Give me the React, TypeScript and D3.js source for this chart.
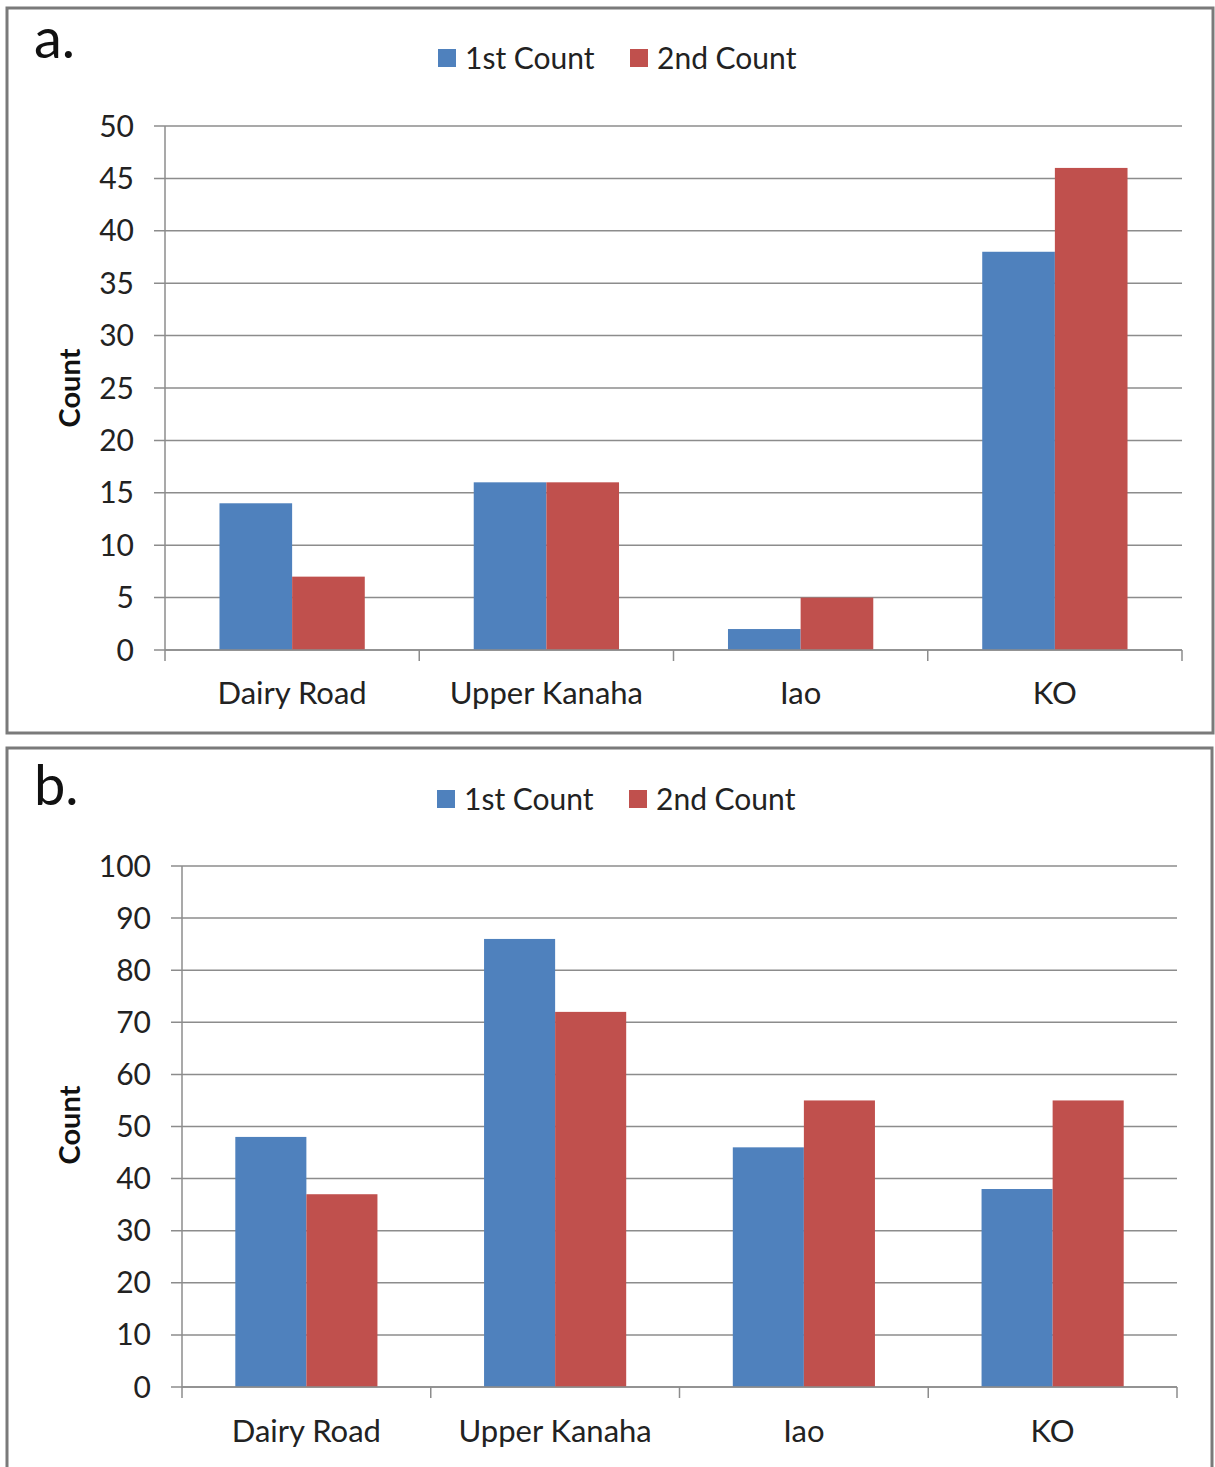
import React from "react";
import * as d3 from "d3";

const categories = ["Dairy Road", "Upper Kanaha", "Iao", "KO"];
const seriesNames = ["1st Count", "2nd Count"];
const seriesColors = ["#4F81BD", "#C0504D"];
const panelA1st = [14, 16, 2, 38];
const panelA2nd = [7, 16, 5, 46];
const panelB1st = [48, 86, 46, 38];
const panelB2nd = [37, 72, 55, 55];
const ticksA = [0, 5, 10, 15, 20, 25, 30, 35, 40, 45, 50];
const ticksB = [0, 10, 20, 30, 40, 50, 60, 70, 80, 90, 100];

const FONT = "Lato, 'Open Sans', sans-serif";

type PanelProps = {
  label: string;
  box: { x: number; y: number; w: number; h: number };
  plot: { x0: number; x1: number; y0: number; y1: number };
  legendY: number;
  legendX: number;
  ticks: number[];
  s1: number[];
  s2: number[];
  xLabelY: number;
  countY: number;
  labelY: number;
};

function Panel(p: PanelProps) {
  const { box, plot } = p;
  const maxV = p.ticks[p.ticks.length - 1];
  const x = d3.scaleBand<string>().domain(categories).range([plot.x0, plot.x1]).padding(0);
  const y = d3.scaleLinear().domain([0, maxV]).range([plot.y0, plot.y1]);
  const bw = x.bandwidth();
  const barW = bw / 3.5;
  const off = (bw - 2 * barW) / 2;
  const series = [p.s1, p.s2];
  const grid = "#8c8c8c";
  return (
    <g>
      <rect x={box.x} y={box.y} width={box.w} height={box.h} fill="#fff" stroke="#7a7a7a" strokeWidth={3} />
      <text x={box.x + 27} y={p.labelY} fontFamily={FONT} fontSize={56} fill="#111">{p.label}</text>
      {seriesNames.map((n, i) => {
        const lx = p.legendX + i * 192;
        return (
          <g key={n}>
            <rect x={lx} y={p.legendY - 9} width={18} height={18} fill={seriesColors[i]} />
            <text x={lx + 27} y={p.legendY} dy="0.35em" fontFamily={FONT} fontSize={30} fill="#222">{n}</text>
          </g>
        );
      })}
      {p.ticks.map((t) => (
        <g key={t}>
          <line x1={plot.x0 - 11} x2={plot.x1} y1={y(t)} y2={y(t)} stroke={grid} strokeWidth={1.5} />
          <text x={plot.x0 - 31} y={y(t)} dy="0.35em" textAnchor="end" fontFamily={FONT} fontSize={30} fill="#222">{t}</text>
        </g>
      ))}
      {categories.map((c, ci) => (
        <g key={c}>
          {series.map((s, si) => (
            <rect
              key={si}
              x={(x(c) as number) + off + si * barW}
              y={y(s[ci])}
              width={barW}
              height={y(0) - y(s[ci])}
              fill={seriesColors[si]}
            />
          ))}
        </g>
      ))}
      <line x1={plot.x0} x2={plot.x0} y1={plot.y1} y2={plot.y0} stroke={grid} strokeWidth={1.5} />
      <line x1={plot.x0} x2={plot.x1} y1={plot.y0} y2={plot.y0} stroke={grid} strokeWidth={1.5} />
      {[...categories.map((c) => x(c) as number), plot.x1].map((tx, i) => (
        <line key={i} x1={tx} x2={tx} y1={plot.y0} y2={plot.y0 + 11} stroke={grid} strokeWidth={1.5} />
      ))}
      {categories.map((c) => (
        <text key={c} x={(x(c) as number) + bw / 2} y={p.xLabelY} dy="0.35em" textAnchor="middle" fontFamily={FONT} fontSize={31} fill="#222">{c}</text>
      ))}
      <text
        transform={`translate(70,${p.countY}) rotate(-90)`}
        textAnchor="middle"
        dy="0.35em"
        fontFamily={FONT}
        fontSize={29}
        fontWeight="bold"
        fill="#111"
      >
        Count
      </text>
    </g>
  );
}

export default function App() {
  return (
    <svg width={1215} height={1467} style={{ position: "absolute", left: 0, top: 0, display: "block" }}>
      <rect width={1215} height={1467} fill="#fff" />
      <Panel
        label="a."
        box={{ x: 7, y: 8, w: 1206, h: 725 }}
        plot={{ x0: 165, x1: 1182, y0: 650, y1: 126 }}
        legendX={438}
        legendY={58}
        ticks={ticksA}
        s1={panelA1st}
        s2={panelA2nd}
        xLabelY={693}
        countY={388}
        labelY={58}
      />
      <Panel
        label="b."
        box={{ x: 7, y: 748, w: 1205, h: 730 }}
        plot={{ x0: 182, x1: 1177, y0: 1387, y1: 866 }}
        legendX={437}
        legendY={799}
        ticks={ticksB}
        s1={panelB1st}
        s2={panelB2nd}
        xLabelY={1431}
        countY={1125}
        labelY={805}
      />
    </svg>
  );
}
